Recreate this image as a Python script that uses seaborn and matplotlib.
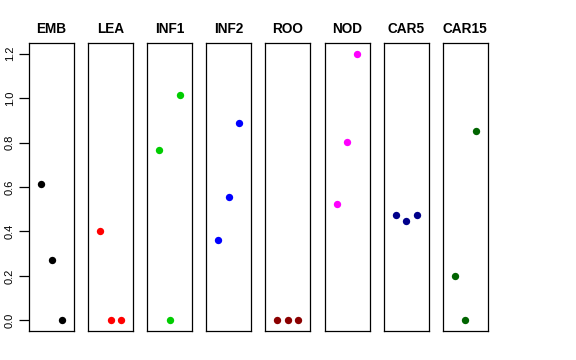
import matplotlib
matplotlib.use('Agg')
import matplotlib.pyplot as plt
import pandas as pd
import seaborn as sns

# tissues, replicate index and expression values
tissues = ['EMB', 'LEA', 'INF1', 'INF2', 'ROO', 'NOD', 'CAR5', 'CAR15']
reps = [1, 2, 3]
values = {
    'EMB': [0.615, 0.273, 0.0],
    'LEA': [0.400, 0.0, 0.0],
    'INF1': [0.765, 0.0, 1.013],
    'INF2': [0.363, 0.553, 0.887],
    'ROO': [0.0, 0.0, 0.0],
    'NOD': [0.525, 0.802, 1.200],
    'CAR5': [0.474, 0.445, 0.474],
    'CAR15': [0.198, 0.0, 0.852],
}
colors = ['black', '#ff0000', '#00cd00', '#0000ff', '#8b0000', '#ff00ff',
          '#00008b', '#006400']
yticks = [0.0, 0.2, 0.4, 0.6, 0.8, 1.0, 1.2]

df = pd.DataFrame([(t, r, v) for t in tissues
                   for r, v in zip(reps, values[t])],
                  columns=['tissue', 'rep', 'value'])

sns.set_style('white')
plt.rcParams['font.family'] = ['Liberation Sans', 'DejaVu Sans']
plt.rcParams['text.color'] = 'black'
plt.rcParams['ytick.color'] = 'black'

W, H = 576, 360
fig = plt.figure(figsize=(W / 100, H / 100), dpi=100)

for i, (tissue, color) in enumerate(zip(tissues, colors)):
    left = 29 + i * 59.1
    ax = fig.add_axes([left / W, 1 - 331 / H, 45 / W, (331 - 43) / H])
    sub = df[df['tissue'] == tissue]
    sns.scatterplot(data=sub, x='rep', y='value', ax=ax, color=color,
                    s=28, linewidth=0, legend=False)
    ax.set_xlim(-0.16, 4.16)
    ax.set_ylim(-0.048, 1.248)
    ax.set_xticks([])
    ax.set_xlabel('')
    ax.set_ylabel('')
    ax.set_title(tissue, fontsize=9.8, fontweight='bold', pad=7,
                 color='black')
    for sp in ax.spines.values():
        sp.set_visible(True)
        sp.set_color('black')
        sp.set_linewidth(0.9)
    if i == 0:
        ax.set_yticks(yticks)
        ax.set_yticklabels([f'{v:.1f}' for v in yticks], rotation=90,
                           va='center', fontsize=8, color='black')
        ax.tick_params(axis='y', left=True, length=7, width=0.9, pad=3,
                       color='black')
    else:
        ax.set_yticks([])

fig.savefig('out.png', dpi=100, facecolor='white')
